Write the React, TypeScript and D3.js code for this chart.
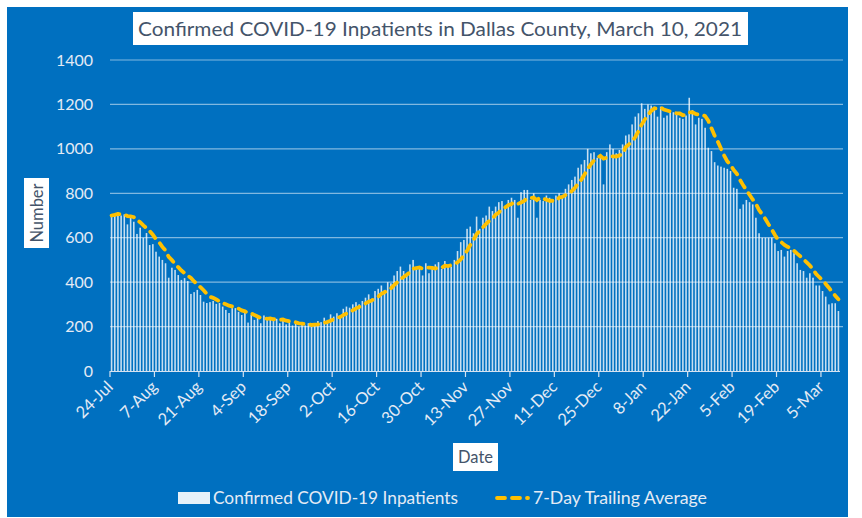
import React from "react";
import * as d3 from "d3";

const startDate = new Date(2020, 6, 24);

const dailyInpatients: number[] = [
  700, 705, 715, 700, 705, 660, 690, 672, 617, 645,
  600, 621, 567, 571, 537, 515, 500, 485, 420, 465,
  455, 432, 410, 418, 405, 347, 355, 365, 342, 312,
  306, 310, 315, 302, 306, 290, 275, 261, 283, 283,
  266, 252, 261, 218, 252, 230,
  240, 215, 250, 240, 230, 225, 235, 215, 230, 210,
  225, 205, 215, 200, 210, 205, 215, 200, 215, 225,
  220, 240, 230, 255, 245, 260, 250, 280, 290, 285,
  300, 310, 300, 315, 330, 345, 325, 360, 370, 385,
  365, 400, 395, 430, 450, 470,
  450, 440, 480, 500, 455, 470, 430, 485, 440, 470,
  480, 490, 460, 495, 470, 470, 500, 540, 580, 590,
  640, 650, 620, 695, 640, 690, 700, 740, 720, 740,
  760, 765, 730, 770, 780, 770, 690, 805, 815, 815,
  770, 800, 690, 770, 765, 790,
  780, 770, 790, 800, 790, 820, 840, 860, 875, 915,
  930, 950, 1000, 980, 985, 960, 975, 840, 985, 1020,
  1000, 980, 995, 1020, 1060, 1065, 1110, 1145, 1160, 1205,
  1180, 1200, 1195, 1190, 1145, 1190, 1140, 1150, 1170, 1165,
  1160, 1140, 1135, 1150, 1230, 1175,
  1110, 1140, 1135, 1095, 1005, 990, 940, 925, 920, 915,
  910, 900, 825, 820, 730, 750, 770, 760, 750, 690,
  620, 600, 600, 600, 600, 575, 540, 545, 515, 540,
  545, 530, 485, 455, 450, 420, 440, 420, 385, 385,
  360, 335, 300, 305, 305, 270,
];

const tickLabels: string[] = [
  "24-Jul", "7-Aug", "21-Aug", "4-Sep", "18-Sep", "2-Oct", "16-Oct", "30-Oct",
  "13-Nov", "27-Nov", "11-Dec", "25-Dec", "8-Jan", "22-Jan", "5-Feb", "19-Feb", "5-Mar",
];
const tickEveryDays = 14;

const yTicks: number[] = [0, 200, 400, 600, 800, 1000, 1200, 1400];

const titleText = "Confirmed COVID-19 Inpatients in Dallas County, March 10, 2021";
const barLegend = "Confirmed COVID-19 Inpatients";
const lineLegend = "7-Day Trailing Average";

const BLUE = "#0070C0";
const YELLOW = "#FFC000";
const LABEL = "#e4ebf5";
const DARKTEXT = "#44546A";
const FONT = "Lato, 'Open Sans', sans-serif";

export default function App() {
  const n = dailyInpatients.length;
  const dates = dailyInpatients.map((_, i) => d3.timeDay.offset(startDate, i));
  const idx = d3.range(n);

  const left = 110, right = 840, top = 60, bottom = 371;
  const x = d3.scaleBand<number>().domain(idx).range([left, right]).paddingInner(0.5).paddingOuter(0.25);
  const step = x.step();
  const bw = x.bandwidth();
  const y = d3.scaleLinear().domain([0, 1400]).range([bottom, top]);

  // 7-day trailing average (partial window at the start)
  const avg = idx.map((i) => d3.mean(dailyInpatients.slice(Math.max(0, i - 6), i + 1)) as number);

  const line = d3
    .line<number>()
    .x((i) => (x(i) as number) + bw / 2)
    .y((i) => y(avg[i]));

  const tickIdx = idx.filter((i) => i % tickEveryDays === 0);
  const tickPos = (i: number) => (x(i) as number) - step * 0.25;

  return (
    <svg width={862} height={518} style={{ position: "absolute", left: 0, top: 0, display: "block" }} fontFamily={FONT}>
      <rect x={0} y={0} width={862} height={518} fill="#ffffff" />
      <rect x={7} y={7} width={841} height={510} fill={BLUE} />

      {/* gridlines */}
      {yTicks.slice(1).map((t) => (
        <line key={t} x1={left} x2={843} y1={y(t)} y2={y(t)} stroke="#ffffff" strokeOpacity={0.5} strokeWidth={1.2} />
      ))}
      {yTicks.map((t) => (
        <text key={"yl" + t} x={93} y={y(t)} dy="0.35em" textAnchor="end" fill={LABEL} fontSize={16}>
          {t}
        </text>
      ))}

      {/* bars */}
      {idx.map((i) => (
        <rect
          key={"b" + i}
          x={x(i)}
          y={y(dailyInpatients[i])}
          width={bw}
          height={bottom - y(dailyInpatients[i])}
          fill="#ffffff"
          fillOpacity={0.78}
        />
      ))}

      {/* x axis */}
      <line x1={left} x2={right} y1={bottom + 0.5} y2={bottom + 0.5} stroke="#d6e2f0" strokeWidth={1.2} />
      {tickIdx.map((i) => (
        <line key={"t" + i} x1={tickPos(i)} x2={tickPos(i)} y1={bottom} y2={bottom + 6} stroke="#d6e2f0" strokeWidth={1.2} />
      ))}
      {tickIdx.map((i, k) => (
        <text
          key={"xl" + i}
          transform={`translate(${tickPos(i) + 4},${bottom + 17}) rotate(-45)`}
          textAnchor="end"
          fill={LABEL}
          fontSize={16.5}
          data-date={dates[i].toISOString()}
        >
          {tickLabels[k]}
        </text>
      ))}

      {/* average line */}
      <path d={line(idx) || ""} fill="none" stroke={YELLOW} strokeWidth={3.8} strokeDasharray="8,7" strokeLinecap="round" />

      {/* title */}
      <rect x={133} y={12} width={615} height={33} fill="#ffffff" />
      <text x={440} y={29} dy="0.35em" textAnchor="middle" fill={DARKTEXT} fontSize={19.5} textLength={604} lengthAdjust="spacingAndGlyphs">
        {titleText}
      </text>

      {/* y axis title */}
      <rect x={24} y={178} width={25} height={70} fill="#ffffff" />
      <text transform="translate(37,213) rotate(-90)" textAnchor="middle" dy="0.35em" fill={DARKTEXT} fontSize={16.5}>
        Number
      </text>

      {/* x axis title */}
      <rect x={453} y={443} width={45} height={28} fill="#ffffff" />
      <text x={475.5} y={457} dy="0.35em" textAnchor="middle" fill={DARKTEXT} fontSize={16.5}>
        Date
      </text>

      {/* legend */}
      <rect x={178} y={492} width={32} height={12} fill="#ffffff" fillOpacity={0.9} />
      <text x={213} y={498} dy="0.35em" fill={LABEL} fontSize={17.5} textLength={245} lengthAdjust="spacingAndGlyphs">
        {barLegend}
      </text>
      <line x1={497} x2={528} y1={498} y2={498} stroke={YELLOW} strokeWidth={3.8} strokeDasharray="8,7" strokeLinecap="round" />
      <text x={533} y={498} dy="0.35em" fill={LABEL} fontSize={17.5} textLength={174} lengthAdjust="spacingAndGlyphs">
        {lineLegend}
      </text>
    </svg>
  );
}
